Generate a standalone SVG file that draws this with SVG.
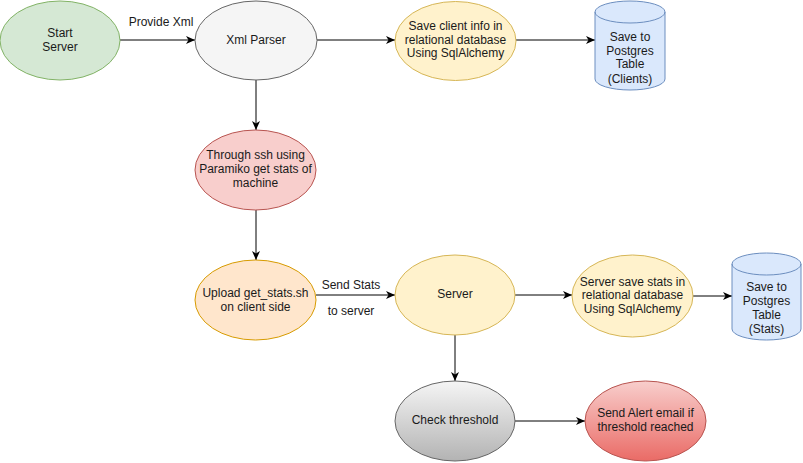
<svg xmlns="http://www.w3.org/2000/svg" width="803" height="463" viewBox="0 0 803 463">
<defs>
<marker id="arr" markerWidth="10" markerHeight="10" refX="9" refY="4" orient="auto" markerUnits="userSpaceOnUse">
<path d="M0,0 L9,4 L0,8 L2.5,4 Z" fill="#000"/>
</marker>
<linearGradient id="gGray" x1="0" y1="0" x2="0" y2="1">
<stop offset="0" stop-color="#f5f5f5"/>
<stop offset="1" stop-color="#b3b3b3"/>
</linearGradient>
<linearGradient id="gRed" x1="0" y1="0" x2="0" y2="1">
<stop offset="0" stop-color="#f8cecc"/>
<stop offset="1" stop-color="#ea6b66"/>
</linearGradient>
</defs>
<style>
text{font-family:"Liberation Sans",Arial,sans-serif;font-size:12px;fill:#1a1a1a;text-anchor:middle}
.c{stroke:#000;stroke-width:1;fill:none;marker-end:url(#arr)}
</style>
<rect width="803" height="463" fill="#fff"/>
<g id="connectors">
<path class="c" d="M120,40 L195,40"/>
<path class="c" d="M317,40 L395,40"/>
<path class="c" d="M516,40 L595,40"/>
<path class="c" d="M256,80 L256,130"/>
<path class="c" d="M256,210 L256,260"/>
<path class="c" d="M316,295 L395,295"/>
<path class="c" d="M515,295 L572,295"/>
<path class="c" d="M693,296 L732,296"/>
<path class="c" d="M455,335 L455,381"/>
<path class="c" d="M515,421 L585,421"/>
<text x="161" y="26">Provide Xml</text>
<text x="351" y="289">Send Stats</text>
<text x="351" y="315">to server</text>
</g>
<g id="start">
<ellipse cx="60" cy="40.5" rx="60" ry="39.5" fill="#d5e8d4" stroke="#82b366"/>
<text x="60" y="37">Start</text>
<text x="60" y="51">Server</text>
</g>
<g id="xmlparser">
<ellipse cx="256" cy="40.5" rx="61" ry="39.5" fill="#f5f5f5" stroke="#666666"/>
<text x="256" y="44">Xml Parser</text>
</g>
<g id="saveclient">
<ellipse cx="455.5" cy="41" rx="60.5" ry="39.5" fill="#fff2cc" stroke="#d6b656"/>
<text x="455.5" y="30">Save client info in</text>
<text x="455.5" y="44">relational database</text>
<text x="455.5" y="57">Using SqlAlchemy</text>
</g>
<g id="dbclients">
<path d="M595,12 A35,11 0 0 1 665,12 L665,79 A35,11 0 0 1 595,79 Z" fill="#dae8fc" stroke="#6c8ebf"/>
<path d="M595,12 A35,11 0 0 0 665,12" fill="none" stroke="#6c8ebf"/>
<text x="630" y="41">Save to</text>
<text x="630" y="55">Postgres</text>
<text x="630" y="68">Table</text>
<text x="630" y="83">(Clients)</text>
</g>
<g id="ssh">
<ellipse cx="255.5" cy="170" rx="60.5" ry="40" fill="#f8cecc" stroke="#b85450"/>
<text x="255.5" y="159">Through ssh using</text>
<text x="255.5" y="173">Paramiko get stats of</text>
<text x="255.5" y="187">machine</text>
</g>
<g id="upload">
<ellipse cx="255.5" cy="300" rx="60.5" ry="40" fill="#ffe6cc" stroke="#d79b00"/>
<text x="255.5" y="297">Upload get_stats.sh</text>
<text x="255.5" y="311">on client side</text>
</g>
<g id="server">
<ellipse cx="455" cy="295" rx="60" ry="40" fill="#fff2cc" stroke="#d6b656"/>
<text x="455" y="298">Server</text>
</g>
<g id="savestats">
<ellipse cx="632.5" cy="296" rx="60.5" ry="41" fill="#fff2cc" stroke="#d6b656"/>
<text x="632.5" y="286">Server save stats in</text>
<text x="632.5" y="299">relational database</text>
<text x="632.5" y="313">Using SqlAlchemy</text>
</g>
<g id="dbstats">
<path d="M732,264 A34.5,11 0 0 1 801,264 L801,329 A34.5,11 0 0 1 732,329 Z" fill="#dae8fc" stroke="#6c8ebf"/>
<path d="M732,264 A34.5,11 0 0 0 801,264" fill="none" stroke="#6c8ebf"/>
<text x="766.5" y="291">Save to</text>
<text x="766.5" y="305">Postgres</text>
<text x="766.5" y="319">Table</text>
<text x="766.5" y="333">(Stats)</text>
</g>
<g id="check">
<ellipse cx="455" cy="421" rx="60" ry="40" fill="url(#gGray)" stroke="#666666"/>
<text x="455" y="424">Check threshold</text>
</g>
<g id="alert">
<ellipse cx="645.5" cy="421" rx="60.5" ry="40" fill="url(#gRed)" stroke="#b85450"/>
<text x="645.5" y="417">Send Alert email if</text>
<text x="645.5" y="431">threshold reached</text>
</g>
</svg>
